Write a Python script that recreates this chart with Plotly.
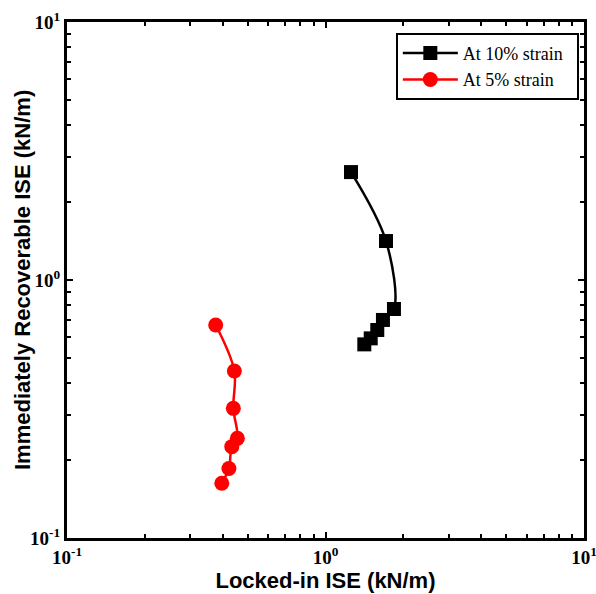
import plotly.graph_objects as go

# Data (log-log axes)
locked_10 = [1.255, 1.714, 1.840, 1.668, 1.586, 1.496, 1.413]
recov_10 = [2.62, 1.416, 0.772, 0.700, 0.640, 0.594, 0.563]

locked_5 = [0.376, 0.444, 0.440, 0.456, 0.434, 0.423, 0.397]
recov_5 = [0.669, 0.444, 0.318, 0.2434, 0.226, 0.186, 0.163]

series_names = ["At 10% strain\u00a0\u00a0", "At 5% strain\u00a0\u00a0"]
x_title = "Locked-in ISE (kN/m)"
y_title = "Immediately Recoverable ISE (kN/m)"

major_vals = [0.1, 1, 10]
major_text = ["<b>10<sup>-1</sup></b>", "<b>10<sup>0</sup></b>", "<b>10<sup>1</sup></b>"]
minor_vals = [m * d for d in (0.1, 1) for m in range(2, 10)]

fig = go.Figure()
fig.add_trace(go.Scatter(
    x=locked_10, y=recov_10, mode="lines+markers", name=series_names[0],
    line=dict(color="black", width=2.5, shape="spline", smoothing=1),
    marker=dict(symbol="square", size=14, color="black"),
))
fig.add_trace(go.Scatter(
    x=locked_5, y=recov_5, mode="lines+markers", name=series_names[1],
    line=dict(color="red", width=2.5, shape="spline", smoothing=1),
    marker=dict(symbol="circle", size=15, color="red"),
))

tickfont = dict(family="Liberation Serif", size=19, color="black")
axis_common = dict(
    type="log", tickmode="array", tickvals=major_vals, ticktext=major_text,
    ticks="inside", ticklen=6, tickwidth=2, tickcolor="black",
    showline=True, linewidth=3, linecolor="black", mirror="allticks",
    showgrid=False, zeroline=False, tickfont=tickfont, automargin=False,
    ticklabeloverflow="allow",
    minor=dict(tickvals=minor_vals, ticks="inside", ticklen=4, tickwidth=2,
               tickcolor="black", showgrid=False),
)

title_font = dict(family="Liberation Sans", size=22, color="black", weight="bold")
fig.update_xaxes(range=[-1, 1], **axis_common,
                 title=dict(text=x_title, standoff=0, font=title_font))
fig.update_yaxes(range=[-1, 1], **axis_common)

fig.add_annotation(text=y_title, xref="paper", yref="paper",
                   x=-0.087, y=0.5, xanchor="center", yanchor="middle",
                   textangle=-90, showarrow=False, font=title_font)

fig.update_layout(
    width=596, height=594,
    margin=dict(l=67, r=12, t=22, b=56),
    plot_bgcolor="white", paper_bgcolor="white",
    showlegend=True,
    legend=dict(x=0.990, y=0.979, xanchor="right", yanchor="top",
                bordercolor="black", borderwidth=2, bgcolor="white",
                font=dict(family="Liberation Serif", size=18, color="black"),
                tracegroupgap=0, itemwidth=55),
)

fig.write_html("out.html", config={"displayModeBar": False},
               post_script="document.body.style.margin='0px';document.body.style.overflow='hidden';")
